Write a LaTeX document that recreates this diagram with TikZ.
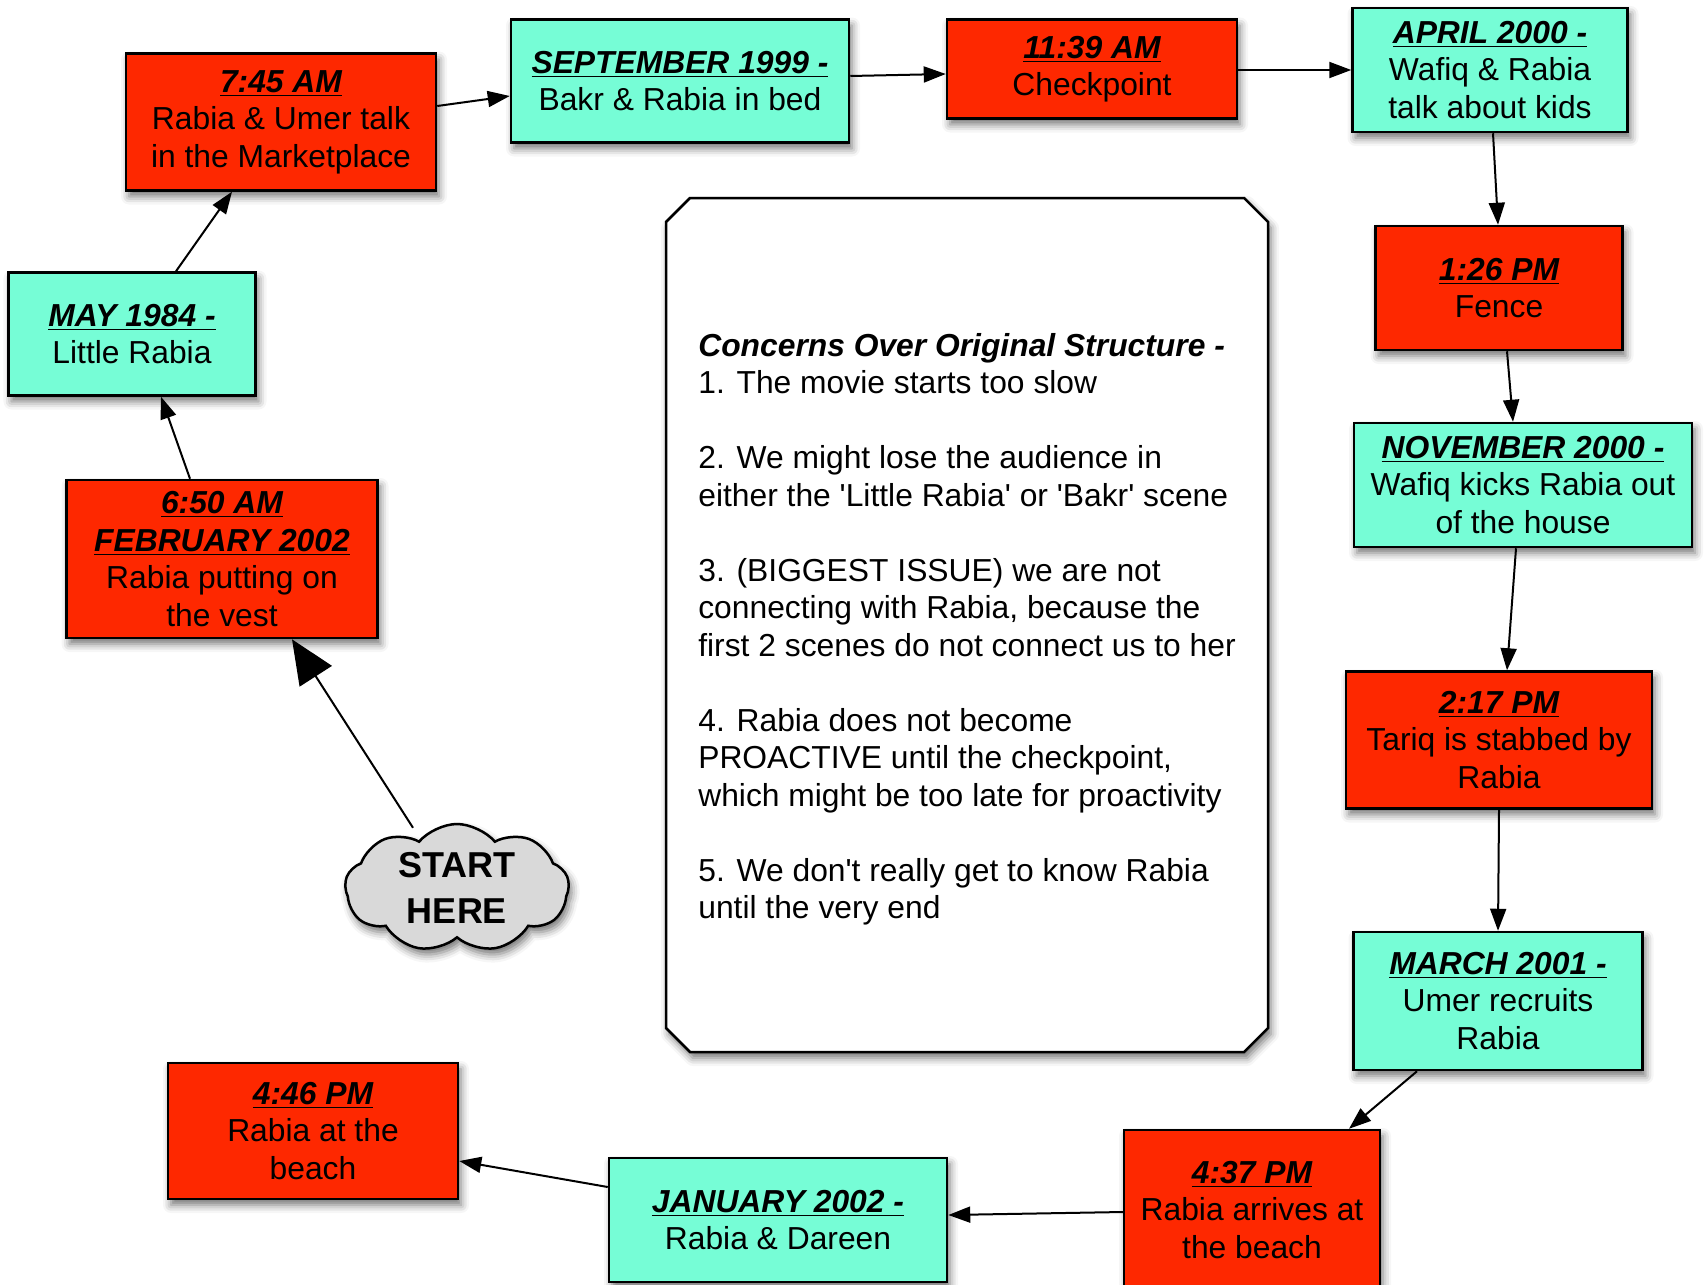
\documentclass[tikz,border=0pt]{standalone}
\usepackage{fontspec}
\setmainfont{Liberation Sans}
\usetikzlibrary{arrows.meta,shapes.misc,shapes.symbols,calc,shadows.blur}
\definecolor{boxred}{RGB}{254,40,0}
\definecolor{boxcyan}{RGB}{118,253,214}
\definecolor{cloudgray}{RGB}{217,217,217}
\newcommand\evttl[1]{\textbf{\textit{\underline{#1}}}}
\newcommand\sq{\textquotesingle}
\begin{document}
\begin{tikzpicture}[x=0.5pt,y=-0.5pt,
  every node/.style={font=\fontsize{15.9}{18.75}\selectfont, align=center, inner sep=0pt},
  softshadow/.style={blur shadow={shadow xshift=1.5pt, shadow yshift=-3pt, shadow blur radius=4pt, shadow opacity=55}},
  evbox/.style={draw=black, line width=1.25pt, rectangle, softshadow},
  redbox/.style={evbox, fill=boxred},
  cyanbox/.style={evbox, fill=boxcyan},
  link/.style={line width=1pt, -{Triangle[length=11pt,width=8pt]}},
  biglink/.style={line width=1pt, -{Triangle[length=22pt,width=19pt]}},
]
\useasboundingbox (0,0) rectangle (1706,1284);
\clip (0,0) rectangle (1706,1284);

\node[redbox, minimum width=155pt, minimum height=68.5pt] (b745) at (281,122)
  {\evttl{7:45 AM}\\Rabia \& Umer talk\\in the Marketplace};
\node[cyanbox, minimum width=169pt, minimum height=61.5pt] (sep) at (680,81)
  {\evttl{SEPTEMBER 1999 -}\\Bakr \& Rabia in bed};
\node[redbox, minimum width=145pt, minimum height=49.5pt] (c1139) at (1092,69)
  {\evttl{11:39 AM}\\Checkpoint};
\node[cyanbox, minimum width=137.5pt, minimum height=62pt] (apr) at (1490,70)
  {\evttl{APRIL 2000 -}\\Wafiq \& Rabia\\talk about kids};
\node[redbox, minimum width=123.5pt, minimum height=62pt] (f126) at (1499,288)
  {\evttl{1:26 PM}\\Fence};
\node[cyanbox, minimum width=169pt, minimum height=62pt] (nov) at (1523,485)
  {\evttl{NOVEMBER 2000 -}\\Wafiq kicks Rabia out\\of the house};
\node[redbox, minimum width=153pt, minimum height=68.5pt] (t217) at (1499,740)
  {\evttl{2:17 PM}\\Tariq is stabbed by\\Rabia};
\node[cyanbox, minimum width=144.5pt, minimum height=69pt] (mar) at (1498,1001)
  {\evttl{MARCH 2001 -}\\Umer recruits\\Rabia};
\node[redbox, minimum width=128pt, minimum height=80pt] (b437) at (1252,1210)
  {\evttl{4:37 PM}\\Rabia arrives at\\the beach};
\node[cyanbox, minimum width=169pt, minimum height=62pt] (jan) at (778,1220)
  {\evttl{JANUARY 2002 -}\\Rabia \& Dareen};
\node[redbox, minimum width=145pt, minimum height=68pt] (b446) at (313,1131)
  {\evttl{4:46 PM}\\Rabia at the\\beach};
\node[redbox, minimum width=155.5pt, minimum height=79pt] (b650) at (222,559)
  {\evttl{6:50 AM}\\\evttl{FEBRUARY 2002}\\Rabia putting on\\the vest};
\node[cyanbox, minimum width=123.5pt, minimum height=61.5pt] (may) at (132,334)
  {\evttl{MAY 1984 -}\\Little Rabia};

\node[cloud, cloud puffs=9, cloud puff arc=100, cloud ignores aspect, draw=black, line width=1.25pt,
  fill=cloudgray, softshadow, minimum width=112pt, minimum height=64pt,
  font=\bfseries\fontsize{18}{23}\selectfont] (cloud) at (457,888) {START\\HERE};

\node[chamfered rectangle, chamfered rectangle xsep=6pt, chamfered rectangle ysep=6pt,
  draw=black, line width=1.25pt, fill=white, softshadow,
  minimum width=301pt, minimum height=427pt, align=left] (notes) at (967,625)
  {\rule{0pt}{16pt}\textbf{\textit{Concerns Over Original Structure -}}\\
   1. The movie starts too slow\\[18.75pt]
   2. We might lose the audience in\\
   either the \sq Little Rabia\sq{} or \sq Bakr\sq{} scene\\[18.75pt]
   3. (BIGGEST ISSUE) we are not\\
   connecting with Rabia, because the\\
   first 2 scenes do not connect us to her\\[18.75pt]
   4. Rabia does not become\\
   PROACTIVE until the checkpoint,\\
   which might be too late for proactivity\\[18.75pt]
   5. We don\sq t really get to know Rabia\\
   until the very end};

\draw[biglink] ($(cloud.north)+(-44,5)$) -- ($(b650.south)+(70,0)$);
\draw[link] ($(b650.north)+(-32,0)$) -- ($(may.south)+(29,0)$);
\draw[link] ($(may.north)+(44,0)$) -- ($(b745.south)+(-49,0)$);
\draw[link] ($(b745.east)+(0,-16)$) -- ($(sep.west)+(0,15)$);
\draw[link] ($(sep.east)+(0,-5)$) -- ($(c1139.west)+(0,5)$);
\draw[link] ($(c1139.east)+(0,1)$) -- (apr.west);
\draw[link] ($(apr.south)+(3,0)$) -- ($(f126.north)+(-1,0)$);
\draw[link] ($(f126.south)+(8,0)$) -- ($(nov.north)+(-10,0)$);
\draw[link] ($(nov.south)+(-7,0)$) -- ($(t217.north)+(8,0)$);
\draw[link] (t217.south) -- (mar.north);
\draw[link] ($(mar.south)+(-81,0)$) -- ($(b437.north)+(97,0)$);
\draw[link] ($(b437.west)+(0,2)$) -- ($(jan.east)+(0,-5)$);
\draw[link] ($(jan.west)+(0,-33)$) -- ($(b446.east)+(0,30)$);
\end{tikzpicture}
\end{document}
